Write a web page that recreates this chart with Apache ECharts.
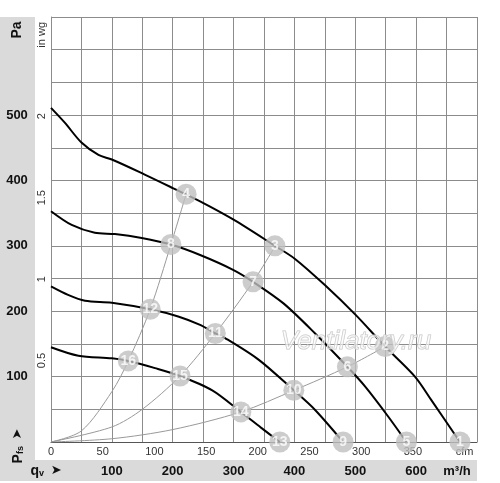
<!DOCTYPE html>
<html><head><meta charset="utf-8">
<script src="https://cdn.jsdelivr.net/npm/echarts@6/dist/echarts.min.js"></script>
<style>html,body{margin:0;padding:0;background:#fff}#c{width:500px;height:483px}</style>
</head><body><div id="c"></div>
<script>
// Fan curves: [flow m³/h, static pressure Pa]
const curve1 = [[0,511],[23,488],[50,458],[78,439],[100,432],[154,409],[201,388],[245,368],[300,340],[368,300],[401,280],[450,240],[501,194],[549,146],[598,100],[625,64],[672,0]];
const curve2 = [[0,353],[34,332],[72,320],[105,318],[149,312],[197,302],[245,286],[300,263],[332,245],[382,212],[434,166],[487,115],[516,85],[554,39],[584,0]];
const curve3 = [[0,238],[28,225],[56,216],[100,213],[163,203],[209,192],[245,179],[270,166],[286,159],[341,126],[399,79],[434,49],[480,0]];
const curve4 = [[0,145],[45,132],[100,128],[127,124],[171,113],[212,101],[265,79],[312,46],[345,22],[376,0]];
// System (operating) lines
const sysLineA = [[0,0],[50,17],[100,77],[127,124],[163,203],[197,302],[222,379]];
const sysLineB = [[0,0],[100,23],[150,50],[212,101],[270,166],[332,245],[368,299]];
const sysLineC = [[0,0],[100,5],[200,19],[312,46],[399,79],[487,115],[549,146]];
// Operating points [flow, pressure, label]
const points = [[672,0,'1'],[549,146,'2'],[368,300,'3'],[222,379,'4'],[584,0,'5'],[487,115,'6'],[332,245,'7'],[197,302,'8'],[480,0,'9'],[399,79,'10'],[270,166,'11'],[163,203,'12'],[376,0,'13'],[312,46,'14'],[212,101,'15'],[127,124,'16']];
// Tick labels
const m3hTicks = [100,200,300,400,500,600];
const cfmTicks = [0,50,100,150,200,250,300,350];
const paTicks = [100,200,300,400,500];
const inwgTicks = [0.5,1,1.5,2];
const M3H_PER_CFM = 1.69901, PA_PER_INWG = 249.089;

const FONT = 'Liberation Sans, Arial, sans-serif';
const chart = echarts.init(document.getElementById('c'));
const grey = '#8c8c8c';
function curve(d){return {type:'line',data:d,smooth:0.3,showSymbol:false,symbol:'none',lineStyle:{color:'#000',width:2},z:3,silent:true};}
function sys(d){return {type:'line',data:d,smooth:0.3,showSymbol:false,symbol:'none',lineStyle:{color:'#999',width:1},z:2,silent:true};}
chart.setOption({
  animation:false,
  grid:{left:51,right:23,top:17,bottom:41},
  xAxis:[
    {type:'value',position:'bottom',min:0,max:700,interval:50,
     axisLine:{show:true,lineStyle:{color:'#555',width:1}},axisTick:{show:false},
     splitLine:{show:true,lineStyle:{color:grey,width:1}},
     axisLabel:{margin:23,fontSize:13,fontWeight:'bold',color:'#111',fontFamily:FONT,
       formatter:v=>m3hTicks.includes(v)?String(v):''}},
    {type:'value',position:'bottom',min:0,max:700/M3H_PER_CFM,interval:50,
     axisLine:{show:false},axisTick:{show:false},splitLine:{show:false},
     axisLabel:{margin:4,fontSize:11,color:'#333',fontFamily:FONT,
       formatter:v=>v===400?'cfm':(cfmTicks.includes(v)?String(v):'')}}
  ],
  yAxis:[
    {type:'value',position:'left',min:0,max:650,interval:50,
     axisLine:{show:true,lineStyle:{color:grey,width:1}},axisTick:{show:false},
     splitLine:{show:true,lineStyle:{color:grey,width:1}},
     axisLabel:{margin:34,align:'center',fontSize:13,fontWeight:'bold',color:'#111',fontFamily:FONT,
       formatter:v=>paTicks.includes(v)?String(v):''}},
    {type:'value',position:'left',min:0,max:650/PA_PER_INWG,interval:0.5,
     axisLine:{show:false},axisTick:{show:false},splitLine:{show:false},
     axisLabel:{margin:9,rotate:90,align:'center',verticalAlign:'middle',fontSize:11,color:'#333',fontFamily:FONT,
       formatter:v=>v===2.5?'in wg':(inwgTicks.includes(v)?String(v):'')}}
  ],
  graphic:[
    {type:'rect',z:-10,shape:{x:0,y:17,width:35,height:464},style:{fill:'#dadada'}},
    {type:'rect',z:-10,shape:{x:0,y:460,width:477,height:21},style:{fill:'#dadada'}},
    {type:'text',x:17,y:30,rotation:Math.PI/2,style:{text:'Pa',font:'bold 14px '+FONT,fill:'#111',align:'center',verticalAlign:'middle'}},
    {type:'text',x:18,y:446,rotation:Math.PI/2,style:{text:'{p|P}{s|fs}  {a|➤}',align:'center',verticalAlign:'middle',
      rich:{p:{font:'bold 14px '+FONT,fill:'#111'},s:{font:'bold 9px '+FONT,fill:'#111',verticalAlign:'bottom',padding:[6,0,0,0]},a:{font:'13px DejaVu Sans',fill:'#111'}}}},
    {type:'text',x:46,y:471,style:{text:'{p|q}{s|v}  {a|➤}',align:'center',verticalAlign:'middle',
      rich:{p:{font:'bold 14px '+FONT,fill:'#111'},s:{font:'bold 9px '+FONT,fill:'#111',verticalAlign:'bottom',padding:[6,0,0,0]},a:{font:'13px DejaVu Sans',fill:'#111'}}}},
    {type:'text',x:457,y:471,style:{text:'m³/h',font:'bold 13px '+FONT,fill:'#111',align:'center',verticalAlign:'middle'}},
    {type:'text',x:356,y:342,z:100,style:{text:'Ventilatory.ru',font:'italic 26px '+FONT,fill:'rgba(255,255,255,0.55)',stroke:'#c4c4c4',lineWidth:1,align:'center',verticalAlign:'middle'}}
  ],
  series:[
    sys(sysLineA),sys(sysLineB),sys(sysLineC),
    curve(curve1),curve(curve2),curve(curve3),curve(curve4),
    {type:'scatter',data:points,symbolSize:21,clip:false,z:5,silent:true,
     itemStyle:{color:'#bfbfbf'},
     label:{show:true,position:'inside',formatter:p=>p.data[2],color:'#fff',fontWeight:'bold',fontSize:14,fontFamily:FONT}}
  ]
});
</script></body></html>
